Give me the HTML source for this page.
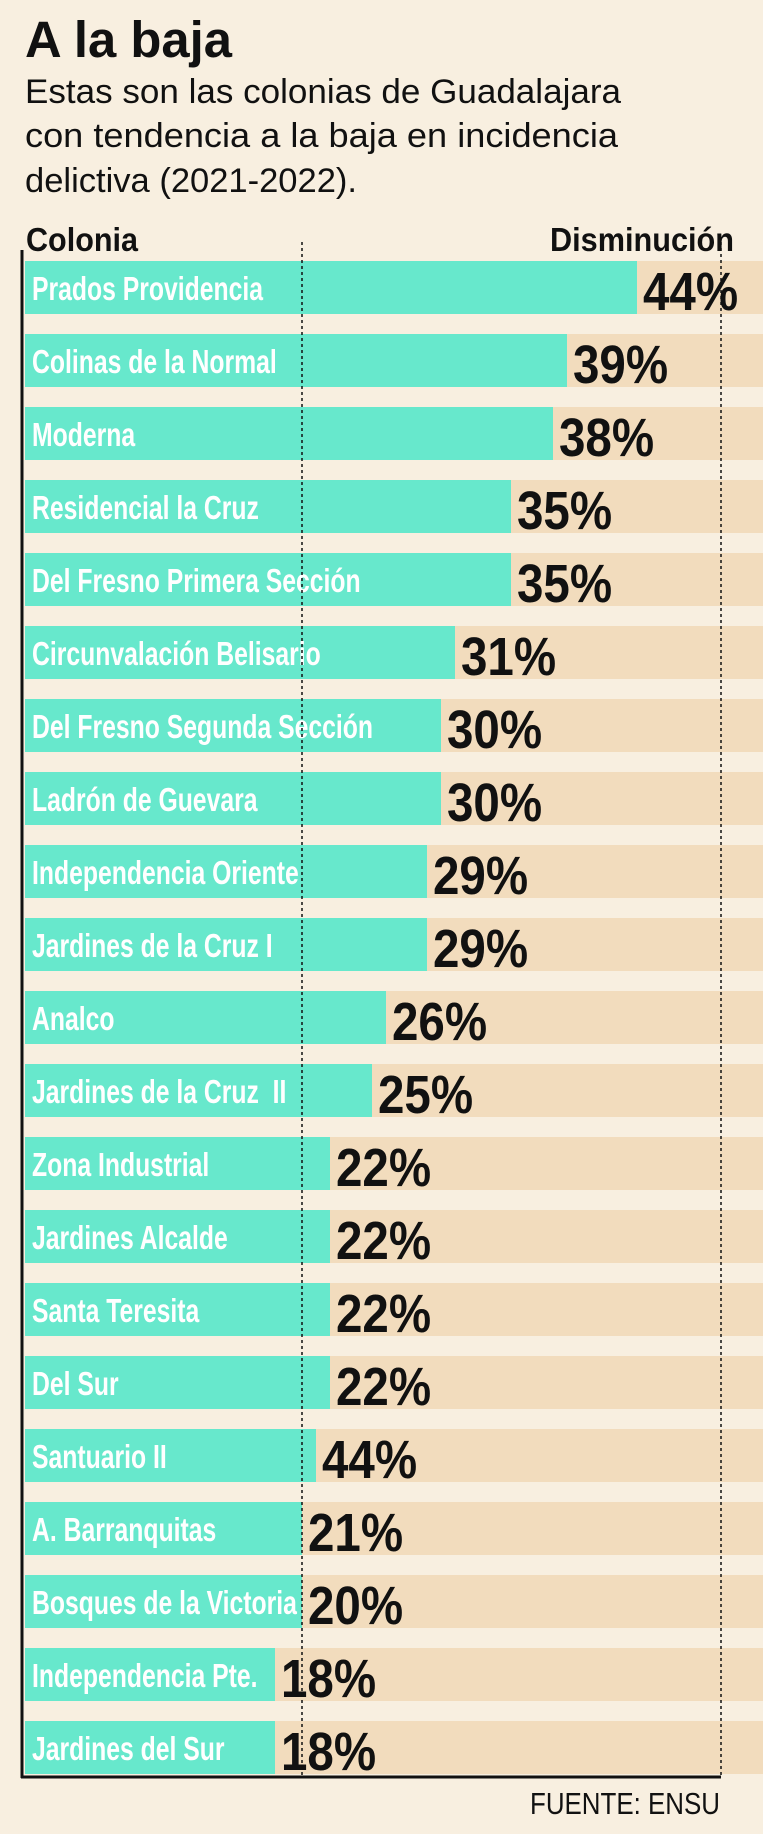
<!DOCTYPE html>
<html><head><meta charset="utf-8"><style>
html,body{margin:0;padding:0;background:#f8efe0;}
svg{display:block;}
text{font-family:"Liberation Sans",sans-serif;}
</style></head><body>
<svg width="763" height="1834" viewBox="0 0 763 1834" xmlns="http://www.w3.org/2000/svg">
<rect width="763" height="1834" fill="#f8efe0"/>
<text x="25" y="57" font-size="51" font-weight="bold" fill="#111" textLength="207" lengthAdjust="spacingAndGlyphs">A la baja</text>
<g font-size="34" fill="#111">
<text x="25" y="103" textLength="596" lengthAdjust="spacingAndGlyphs">Estas son las colonias de Guadalajara</text>
<text x="25" y="147" textLength="593" lengthAdjust="spacingAndGlyphs">con tendencia a la baja en incidencia</text>
<text x="25" y="192" textLength="332" lengthAdjust="spacingAndGlyphs">delictiva (2021-2022).</text>
</g>
<text x="26" y="251" font-size="33" font-weight="bold" fill="#111" textLength="112" lengthAdjust="spacingAndGlyphs">Colonia</text>
<text x="550" y="251" font-size="33" font-weight="bold" fill="#111" textLength="184" lengthAdjust="spacingAndGlyphs">Disminución</text>
<g id="rows"></g>
<line x1="302" y1="242" x2="302" y2="1776" stroke="#111" stroke-width="1.5" stroke-dasharray="3,3"/>
<line x1="721" y1="242" x2="721" y2="1776" stroke="#111" stroke-width="1.5" stroke-dasharray="3,3"/>
<line x1="22" y1="250" x2="22" y2="1778" stroke="#111" stroke-width="3"/>
<line x1="21" y1="1777" x2="721" y2="1777" stroke="#111" stroke-width="3"/>
<text x="530" y="1814" font-size="31" fill="#111" textLength="190" lengthAdjust="spacingAndGlyphs">FUENTE: ENSU</text>
</svg>
<script>
var d=[["Prados Providencia",637,"44%"],["Colinas de la Normal",567,"39%"],["Moderna",553,"38%"],["Residencial la Cruz",511,"35%"],["Del Fresno Primera Sección",511,"35%"],["Circunvalación Belisario",455,"31%"],["Del Fresno Segunda Sección",441,"30%"],["Ladrón de Guevara",441,"30%"],["Independencia Oriente",427,"29%"],["Jardines de la Cruz I",427,"29%"],["Analco",386,"26%"],["Jardines de la Cruz  II",372,"25%"],["Zona Industrial",330,"22%"],["Jardines Alcalde",330,"22%"],["Santa Teresita",330,"22%"],["Del Sur",330,"22%"],["Santuario II",316,"44%"],["A. Barranquitas",302,"21%"],["Bosques de la Victoria",302,"20%"],["Independencia Pte.",275,"18%"],["Jardines del Sur",275,"18%"]];
var g=document.getElementById("rows"),h="";
d.forEach(function(r,i){var y=261+i*73;
h+='<rect x="25" y="'+y+'" width="738" height="53" fill="#f2dcbd"/>';
h+='<rect x="25" y="'+y+'" width="'+(r[1]-25)+'" height="53" fill="#67e8cc"/>';
h+='<g transform="translate(32,'+(y+39)+') scale(0.75,1)"><text font-size="33" font-weight="bold" fill="#fff" xml:space="preserve">'+r[0]+'</text></g>';
h+='<g transform="translate('+(r[1]+6)+','+(y+49)+') scale(0.88,1)"><text font-size="54" font-weight="bold" fill="#111">'+r[2]+'</text></g>';});
g.innerHTML=h;
</script>
</body></html>
